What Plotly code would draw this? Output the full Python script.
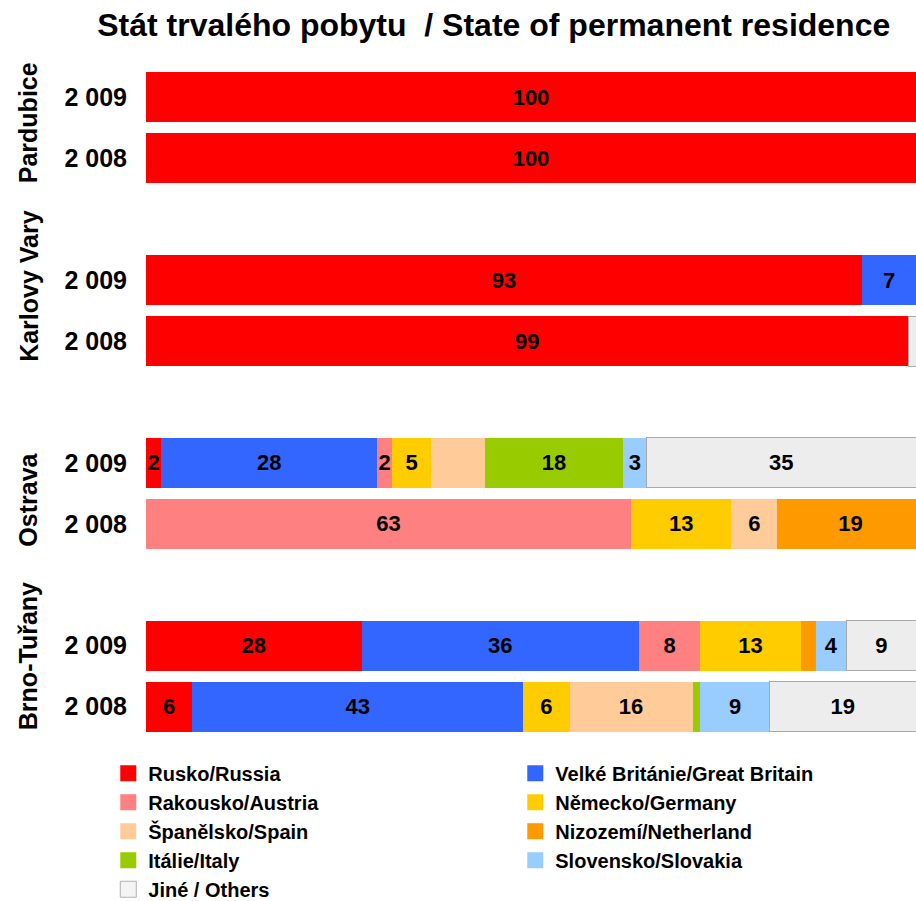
import plotly.graph_objects as go

groups = ["Pardubice", "Karlovy Vary", "Ostrava", "Brno-Tuřany"]
years = ["2 009", "2 008"]

series = [
    "Rusko/Russia", "Velké Británie/Great Britain", "Rakousko/Austria",
    "Německo/Germany", "Španělsko/Spain", "Nizozemí/Netherland",
    "Itálie/Italy", "Slovensko/Slovakia", "Jiné / Others",
]
colors = ["#FF0000", "#3366FF", "#FF8080", "#FFCC00", "#FFCC99",
          "#FF9900", "#99CC00", "#99CCFF", "#EDEDED"]

# rows: Pardubice 2009, 2008, Karlovy Vary 2009, 2008, Ostrava 2009, 2008, Brno 2009, 2008
russia      = [100, 100, 93, 99, 2, 0, 28, 6]
britain     = [0, 0, 7, 0, 28, 0, 36, 43]
austria     = [0, 0, 0, 0, 2, 63, 8, 0]
germany     = [0, 0, 0, 0, 5, 13, 13, 6]
spain       = [0, 0, 0, 0, 7, 6, 0, 16]
netherland  = [0, 0, 0, 0, 0, 19, 2, 0]
italy       = [0, 0, 0, 0, 18, 0, 0, 1]
slovakia    = [0, 0, 0, 0, 3, 0, 4, 9]
others      = [0, 0, 0, 1, 35, 0, 9, 19]
values = [russia, britain, austria, germany, spain, netherland, italy, slovakia, others]

# labels not printed in the reference (series index, row index)
hidden_labels = {(4, 4), (5, 6)}

# y positions: two rows per group with an empty slot between groups
ypos = []
ylabels = []
for g in range(len(groups)):
    for i, yr in enumerate(years):
        ypos.append(g * 3 + i)
        ylabels.append(yr)

FONT = "Liberation Sans, Arial, sans-serif"

fig = go.Figure()
for s, (name, col, vals) in enumerate(zip(series, colors, values)):
    text = []
    for r, v in enumerate(vals):
        text.append(str(v) if v >= 2 and (s, r) not in hidden_labels else "")
    is_other = name.startswith("Jiné")
    fig.add_trace(go.Bar(
        y=ypos, x=vals, name=name, orientation="h", showlegend=False,
        legendgroup=name,
        marker=dict(color=col,
                    line=dict(color="#A8A8A8" if is_other else col,
                              width=1 if is_other else 0)),
        text=text, textposition="inside", insidetextanchor="middle",
        constraintext="none", textangle=0,
        textfont=dict(family=FONT, size=22, color="black", weight="bold"),
        hoverinfo="x+name",
    ))

# legend entries with larger square keys
for name, col in zip(series, colors):
    is_other = name.startswith("Jiné")
    fig.add_trace(go.Scatter(
        x=[None], y=[None], mode="markers", name=name, legendgroup=name,
        marker=dict(symbol="square", size=16, color="#F4F4F4" if is_other else col,
                    line=dict(color="#B0B0B0" if is_other else col, width=1 if is_other else 0)),
        showlegend=True,
    ))

offs = [0.42, 0.09, 0.6, 0.17]
for g, name in enumerate(groups):
    fig.add_annotation(
        x=-0.153, xref="paper", y=g * 3 + offs[g], yref="y",
        text=name, textangle=-90, showarrow=False,
        font=dict(family=FONT, size=25, color="black", weight="bold"),
        xanchor="center", yanchor="middle",
    )

fig.update_layout(
    width=916, height=901, autosize=False,
    barmode="stack", bargap=0.18,
    plot_bgcolor="white", paper_bgcolor="white",
    margin=dict(l=146, r=0, t=66.5, b=163.5, autoexpand=False),
    title=dict(text="Stát trvalého pobytu  / State of permanent residence",
               x=0.539, xanchor="center", y=0.972, yanchor="middle",
               font=dict(family=FONT, size=32, color="black", weight="bold")),
    xaxis=dict(range=[0, 100], visible=False, fixedrange=True),
    yaxis=dict(tickvals=ypos, ticktext=ylabels, autorange=False, range=[10.5, -0.5],
               showgrid=False, zeroline=False, showline=False, ticks="",
               ticklabelstandoff=18, automargin=False,
               tickfont=dict(family=FONT, size=25, color="black", weight="bold")),
    showlegend=True,
    legend=dict(orientation="h", x=-0.049, xanchor="left", y=-0.025, yanchor="top",
                entrywidth=362, entrywidthmode="pixels", traceorder="normal",
                itemwidth=30, tracegroupgap=0, itemsizing="trace",
                font=dict(family=FONT, size=20, color="black", weight="bold")),
)

fig.write_html(
    "out.html",
    config={"responsive": False, "displayModeBar": False},
    post_script="document.body.style.margin='0';document.body.style.overflow='hidden';",
)
